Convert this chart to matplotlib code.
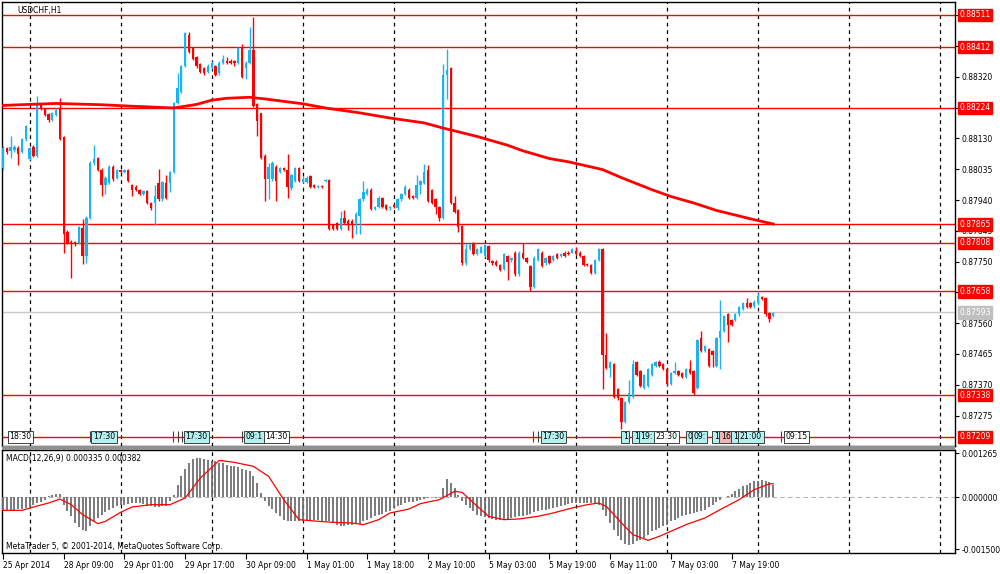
import numpy as np
import matplotlib
matplotlib.use("Agg")
import matplotlib.pyplot as plt
import matplotlib.transforms as mtransforms

# USDCHF H1 candles, prices in points (1 point = 0.00001)
opens = [88038, 88100, 88092, 88094, 88102, 88088, 88128, 88066, 88105, 88077,
         88235, 88220, 88204, 88186, 88201, 88220, 88133, 87840, 87812, 87812,
         87807, 87855, 87767, 87885, 88054, 88069, 88032, 87987, 87992, 88043,
         88009, 88032, 88026, 88032, 87987, 87981, 87970, 87959, 87968, 87931,
         87931, 87992, 87942, 87992, 87992, 88026, 88240, 88274, 88353, 88449,
         88409, 88381, 88359, 88348, 88336, 88348, 88353, 88331, 88364, 88370,
         88370, 88370, 88364, 88413, 88348, 88364, 88404, 88235, 88207, 88077,
         88004, 88004, 88043, 88026, 88038, 88032, 87976, 87998, 88038, 87996,
         87996, 88015, 87987, 87979, 87983, 87998, 88002, 87863, 87869, 87852,
         87885, 87874, 87874, 87869, 87891, 87942, 87959, 87972, 87911, 87919,
         87945, 87925, 87914, 87925, 87914, 87942, 87959, 87972, 87951, 87947,
         87987, 87992, 88032, 87970, 87942, 87919, 87885, 88325, 88348, 87931,
         87908, 87860, 87745, 87790, 87807, 87773, 87778, 87767, 87799, 87752,
         87750, 87739, 87728, 87767, 87754, 87778, 87711, 87778, 87761, 87736,
         87671, 87756, 87778, 87745, 87767, 87756, 87773, 87767, 87778, 87778,
         87778, 87784, 87778, 87767, 87742, 87739, 87716, 87756, 87790, 87463,
         87423, 87435, 87356, 87328, 87254, 87316, 87333, 87440, 87412, 87361,
         87367, 87401, 87429, 87440, 87435, 87418, 87373, 87406, 87412, 87406,
         87395, 87418, 87412, 87361, 87514, 87474, 87480, 87474, 87429, 87514,
         87536, 87587, 87570, 87570, 87587, 87604, 87621, 87623, 87612, 87621,
         87641, 87638, 87592, 87581]
highs = [88107, 88105, 88139, 88111, 88107, 88130, 88173, 88105, 88111, 88261,
         88238, 88224, 88207, 88212, 88224, 88254, 88137, 87846, 87818, 87814,
         87860, 87882, 87891, 88060, 88111, 88074, 88038, 88015, 88047, 88047,
         88035, 88035, 88035, 88035, 87990, 87985, 87973, 87972, 87970, 87934,
         87987, 88035, 87999, 88017, 88030, 88244, 88331, 88357, 88458, 88457,
         88413, 88385, 88362, 88351, 88359, 88370, 88357, 88370, 88387, 88381,
         88376, 88373, 88413, 88421, 88370, 88475, 88505, 88238, 88210, 88083,
         88054, 88060, 88049, 88043, 88043, 88083, 88021, 88043, 88043, 88015,
         88013, 88018, 87990, 87987, 87987, 88004, 88004, 87866, 87872, 87905,
         87908, 87880, 87880, 87902, 87945, 87998, 87976, 87976, 87923, 87953,
         87950, 87928, 87923, 87928, 87945, 87962, 87985, 87976, 87954, 88017,
         88002, 88051, 88047, 87973, 87945, 87923, 88359, 88407, 88351, 87953,
         87911, 87863, 87807, 87807, 87810, 87793, 87799, 87804, 87802, 87756,
         87754, 87742, 87778, 87770, 87765, 87782, 87782, 87807, 87765, 87739,
         87767, 87793, 87782, 87765, 87770, 87770, 87776, 87776, 87782, 87782,
         87793, 87795, 87782, 87770, 87746, 87742, 87759, 87793, 87793, 87530,
         87444, 87438, 87359, 87331, 87320, 87384, 87446, 87444, 87416, 87404,
         87421, 87438, 87444, 87446, 87438, 87421, 87410, 87440, 87416, 87410,
         87421, 87446, 87416, 87511, 87536, 87494, 87483, 87477, 87517, 87630,
         87585, 87590, 87573, 87590, 87613, 87624, 87638, 87626, 87630, 87654,
         87644, 87641, 87596, 87596]
lows = [88032, 88083, 88071, 88088, 88049, 88085, 88122, 88062, 88074, 88074,
        88218, 88198, 88182, 88184, 88198, 88125, 87778, 87803, 87699, 87799,
        87803, 87742, 87747, 87882, 88049, 88029, 87953, 87959, 87989, 88000,
        88006, 88024, 88024, 87995, 87953, 87967, 87955, 87956, 87927, 87908,
        87863, 87938, 87938, 87944, 87964, 88023, 88237, 88271, 88350, 88395,
        88372, 88348, 88333, 88327, 88333, 88344, 88322, 88327, 88361, 88361,
        88359, 88353, 88361, 88316, 88314, 88361, 88226, 88139, 88068, 87936,
        87942, 88000, 87936, 88023, 88029, 87947, 87972, 87995, 87995, 87992,
        87992, 87978, 87978, 87976, 87976, 87995, 87848, 87848, 87848, 87848,
        87865, 87848, 87823, 87835, 87835, 87938, 87955, 87908, 87908, 87916,
        87916, 87908, 87910, 87916, 87910, 87938, 87955, 87944, 87944, 87944,
        87959, 87989, 87933, 87927, 87897, 87874, 87882, 88252, 87927, 87899,
        87840, 87741, 87741, 87786, 87769, 87769, 87775, 87764, 87750, 87741,
        87736, 87721, 87724, 87694, 87750, 87707, 87707, 87758, 87747, 87660,
        87668, 87752, 87732, 87741, 87743, 87752, 87758, 87764, 87764, 87769,
        87775, 87769, 87764, 87736, 87736, 87713, 87713, 87752, 87356, 87420,
        87395, 87330, 87324, 87232, 87251, 87313, 87330, 87397, 87364, 87358,
        87364, 87397, 87426, 87426, 87414, 87369, 87369, 87403, 87397, 87392,
        87392, 87403, 87339, 87358, 87471, 87471, 87426, 87426, 87426, 87418,
        87533, 87502, 87550, 87567, 87583, 87600, 87606, 87606, 87608, 87617,
        87631, 87583, 87564, 87578]
closes = [88100, 88088, 88105, 88105, 88083, 88128, 88167, 88100, 88077, 88235,
          88220, 88201, 88186, 88207, 88218, 88128, 87835, 87807, 87803, 87803,
          87857, 87767, 87885, 88054, 88066, 88032, 87987, 88007, 88043, 88004,
          88032, 88026, 88032, 87998, 87970, 87970, 87959, 87968, 87931, 87914,
          87953, 87942, 87996, 87947, 88026, 88240, 88286, 88353, 88455, 88398,
          88376, 88353, 88336, 88331, 88353, 88364, 88325, 88364, 88376, 88364,
          88364, 88364, 88409, 88319, 88364, 88404, 88229, 88184, 88071, 88004,
          88043, 88054, 87998, 88038, 88032, 87981, 88017, 88038, 87998, 88006,
          88009, 87981, 87981, 87983, 87979, 88002, 87852, 87852, 87852, 87885,
          87869, 87863, 87866, 87897, 87942, 87964, 87972, 87911, 87919, 87947,
          87919, 87911, 87919, 87919, 87942, 87959, 87981, 87947, 87947, 87987,
          87998, 88026, 87936, 87931, 87919, 87885, 88325, 88342, 87931, 87902,
          87857, 87745, 87790, 87801, 87773, 87790, 87795, 87801, 87754, 87745,
          87739, 87724, 87773, 87750, 87761, 87711, 87778, 87761, 87750, 87671,
          87761, 87790, 87736, 87761, 87747, 87767, 87761, 87773, 87767, 87773,
          87790, 87773, 87767, 87739, 87739, 87716, 87756, 87790, 87463, 87423,
          87440, 87333, 87328, 87254, 87316, 87344, 87435, 87401, 87367, 87401,
          87418, 87435, 87440, 87429, 87418, 87373, 87406, 87412, 87401, 87395,
          87418, 87406, 87344, 87508, 87474, 87491, 87429, 87463, 87514, 87536,
          87581, 87553, 87553, 87587, 87609, 87621, 87609, 87609, 87626, 87643,
          87634, 87587, 87573, 87592]

# moving average (read at some bars)
ma_bars = [0, 14, 26, 33, 39, 45, 51, 55, 59, 65, 69, 79, 85, 94, 102, 111, 116,
           125, 133, 137, 144, 149, 158, 163, 171, 176, 182, 188, 197, 203]
ma_points = [88232, 88238, 88234, 88230, 88227, 88224, 88235, 88248, 88254, 88257,
             88252, 88237, 88224, 88209, 88193, 88178, 88162, 88136, 88109, 88092,
             88068, 88058, 88034, 88009, 87972, 87951, 87931, 87908, 87882, 87866]

# MACD histogram, units of 1e-6
macd_hist = [-364, -364, -364, -364, -355, -345, -326, -288, -221, -173,
             -153, -96, 38, 58, 96, 96, -221, -412, -556, -748,
             -863, -940, -988, -844, -700, -604, -508, -441, -384, -316,
             -269, -240, -221, -192, -173, -173, -173, -192, -249, -269,
             -288, -288, -269, -249, -125, 67, 355, 595, 806, 978,
             1093, 1122, 1122, 1103, 1074, 1026, 1026, 978, 978, 930,
             901, 882, 854, 806, 786, 738, 595, 403, 115, -125,
             -269, -345, -460, -556, -652, -700, -700, -700, -700, -700,
             -652, -652, -652, -671, -681, -700, -700, -748, -796, -825,
             -825, -806, -796, -786, -767, -700, -652, -604, -556, -508,
             -480, -441, -412, -316, -249, -221, -173, -153, -153, -115,
             -77, -48, -29, -10, -19, 10, 259, 518, 403, 259,
             67, -125, -221, -316, -412, -508, -556, -585, -604, -623,
             -652, -671, -652, -623, -604, -575, -556, -537, -508, -480,
             -441, -412, -384, -364, -345, -316, -288, -249, -221, -192,
             -173, -173, -173, -173, -173, -173, -192, -221, -364, -556,
             -748, -940, -1132, -1247, -1343, -1371, -1343, -1275, -1228, -1180,
             -1084, -988, -940, -892, -844, -796, -700, -652, -604, -556,
             -508, -480, -460, -441, -412, -364, -288, -221, -153, -77,
             10, 38, 96, 163, 230, 307, 355, 403, 451, 470,
             480, 470, 432, 335]

# MACD signal line (read at some bars), units of 1e-6
sig_bars = [0, 5, 8, 12, 15, 18, 21, 25, 27, 31, 34, 39, 44, 48, 52, 57, 61, 66,
            70, 74, 78, 83, 87, 92, 95, 99, 102, 107, 110, 115, 119, 121, 125,
            128, 132, 136, 141, 145, 150, 154, 157, 159, 163, 166, 170, 173,
            177, 180, 185, 189, 194, 198, 202, 203]
sig_values = [-384, -384, -288, -173, -58, -221, -508, -767, -700, -441, -288,
              -221, -221, -29, 547, 1055, 997, 882, 595, -77, -652, -700, -729,
              -748, -796, -652, -460, -345, -192, -77, 163, 134, -269, -556,
              -652, -633, -556, -460, -316, -221, -173, -269, -748, -1084,
              -1247, -1132, -940, -796, -604, -364, -77, 211, 380, 382]

level_prices = [0.88511, 0.88412, 0.88224, 0.87865, 0.87808, 0.87658, 0.87338, 0.87209]
bid_price = 0.87593
price_ticks = [0.87275, 0.87370, 0.87465, 0.87560, 0.87655, 0.87750, 0.87845,
               0.87940, 0.88035, 0.88130, 0.88225, 0.88320, 0.88415, 0.88510]
macd_ticks = [0.001265, 0.0, -0.0015]

date_ticks = [0, 16, 32, 48, 64, 80, 96, 112, 128, 144, 160, 176, 192]
date_labels = ["25 Apr 2014", "28 Apr 09:00", "29 Apr 01:00", "29 Apr 17:00",
               "30 Apr 09:00", "1 May 01:00", "1 May 18:00", "2 May 10:00",
               "5 May 03:00", "5 May 19:00", "6 May 11:00", "7 May 03:00",
               "7 May 19:00"]

# trade tags on the bottom level line: text, bar position, fill
trade_tags = [("18:30", 1.6, "white"), ("17:30", 23.7, "#b4f0f0"),
              ("17:30", 48.0, "#b4f0f0"), ("09:1", 63.9, "#b4f0f0"),
              ("14:30", 69.1, "white"), ("17:30", 142.2, "#b4f0f0"),
              ("1", 163.3, "#b4f0f0"), ("1", 166.2, "#b4f0f0"),
              ("19:", 168.0, "#b4f0f0"), ("23:30", 172.0, "white"),
              ("0", 180.5, "#b4f0f0"), ("09:", 182.0, "#b4f0f0"),
              ("1", 187.3, "#b4f0f0"), ("16", 189.2, "#f0b4b4"),
              ("1", 192.3, "#b4f0f0"), ("21:00", 194.2, "#b4f0f0"),
              ("09:15", 206.3, "white")]
tag_marks = [22.9, 44.9, 46.0, 47.1, 63.0, 139.8, 141.0, 205.0]

bull = "#1ab4f5"
bear = "#ff0000"
fs = 5.5

o = np.array(opens) / 1e5
h = np.array(highs) / 1e5
l = np.array(lows) / 1e5
c = np.array(closes) / 1e5
idx = np.arange(len(c))

fig = plt.figure(figsize=(10, 5.74), dpi=100)
fig.patch.set_facecolor("white")
ax = fig.add_axes([0.002, 0.2230, 0.953, 0.7735])
ax2 = fig.add_axes([0.002, 0.0366, 0.953, 0.1794])

# separator band between panels
fig.patches.append(plt.Rectangle((0.002, 0.2160), 0.953, 0.0070, transform=fig.transFigure,
                                 facecolor="#909090", edgecolor="none", zorder=0))

for a in (ax, ax2):
    a.set_xlim(-0.26, 250.9)
    for g in range(7, 251, 24):
        a.axvline(g, color="black", ls=(0, (3, 3)), lw=0.9, zorder=1)
    for s in a.spines.values():
        s.set_color("black")
        s.set_linewidth(1.0)

# main panel
ax.set_ylim(0.87181, 0.88551)
for p in level_prices:
    ax.axhline(p, color="red", lw=1.0, zorder=2)
ax.axhline(bid_price, color="#c8c8c8", lw=1.0, zorder=2)

colors = np.where(c >= o, bull, bear)
ax.vlines(idx, l, h, colors=colors, lw=1.0, zorder=3)
body_lo = np.minimum(o, c)
body_h = np.maximum(np.abs(c - o), 0.00003)
ax.bar(idx, body_h, bottom=body_lo, width=0.62, color=colors, linewidth=0, zorder=4)

ax.plot(ma_bars, np.array(ma_points) / 1e5, color="red", lw=2.0, zorder=5)

ax.set_xticks([])
ax.yaxis.tick_right()
ax.set_yticks(price_ticks)
# labels hidden behind the level boxes are left empty
ax.set_yticklabels(["" if min(abs(t - p) for p in level_prices) < 0.00006 else f"{t:.5f}"
                    for t in price_ticks])
ax.tick_params(axis="y", length=3, width=0.8, pad=2, labelsize=fs)

ax.text(0.016, 0.981, "USDCHF,H1", transform=ax.transAxes, fontsize=fs,
        va="center", ha="left")

tr = mtransforms.blended_transform_factory(ax.transAxes, ax.transData)
for p in level_prices:
    ax.text(1.0045, p, f"{p:.5f}", transform=tr, fontsize=fs, color="white",
            va="center", ha="left", zorder=10, clip_on=False,
            bbox=dict(boxstyle="square,pad=0.22", fc="red", ec="red"))
ax.text(1.0045, bid_price, f"{bid_price:.5f}", transform=tr, fontsize=fs, color="white",
        va="center", ha="left", zorder=10, clip_on=False,
        bbox=dict(boxstyle="square,pad=0.22", fc="#c0c0c0", ec="#c0c0c0"))

tag_y = level_prices[-1]
for txt, x, fc in trade_tags:
    ax.text(x, tag_y, txt, fontsize=5.6, va="center", ha="left", zorder=8,
            bbox=dict(boxstyle="square,pad=0.2", fc=fc, ec="#404040", lw=0.7))
ax.vlines(tag_marks, tag_y - 0.00017, tag_y + 0.00017, colors="#404040", lw=0.8, zorder=8)

# MACD panel
ax2.set_ylim(-0.001612, 0.001353)
ax2.axhline(0, color="#b4b4b4", ls=(0, (4, 3)), lw=0.8, zorder=2)
ax2.vlines(idx, 0, np.array(macd_hist) * 1e-6, colors="#707070", lw=1.3, zorder=3)
ax2.plot(sig_bars, np.array(sig_values) * 1e-6, color="red", lw=0.9, zorder=4)

ax2.yaxis.tick_right()
ax2.set_yticks(macd_ticks)
ax2.set_yticklabels([f"{t:.6f}" for t in macd_ticks])
ax2.tick_params(axis="y", length=3, width=0.8, pad=2, labelsize=fs)
ax2.set_xticks(date_ticks)
ax2.set_xticklabels(date_labels, ha="left")
ax2.tick_params(axis="x", length=4, width=0.8, pad=2, labelsize=fs)

ax2.text(0.004, 0.92, "MACD(12,26,9) 0.000335 0.000382", transform=ax2.transAxes,
         fontsize=fs, va="center", ha="left")
ax2.text(0.004, 0.06, "MetaTrader 5, \u00a9 2001-2014, MetaQuotes Software Corp.",
         transform=ax2.transAxes, fontsize=fs, va="center", ha="left")

fig.savefig("out.png", dpi=100, facecolor="white")
